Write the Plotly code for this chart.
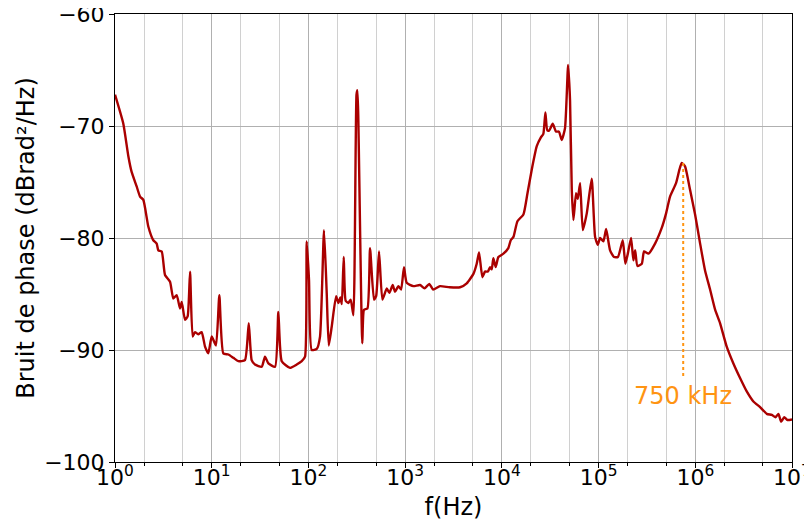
import math
import plotly.graph_objects as go

# log10 of frequency (Hz)
log_freq = [
    0.0, 0.086, 0.138, 0.172, 0.224, 0.259, 0.293, 0.345, 0.396, 0.431,
    0.448, 0.483, 0.517, 0.569, 0.603, 0.638, 0.672, 0.690, 0.724, 0.751,
    0.776, 0.803, 0.827, 0.86, 0.896, 0.931, 0.965, 1.0, 1.044, 1.079,
    1.12, 1.172, 1.224, 1.275, 1.344, 1.383, 1.413, 1.448, 1.517, 1.551,
    1.586, 1.655, 1.689, 1.724, 1.81, 1.879, 1.931, 1.965, 1.982, 2.006,
    2.034, 2.086, 2.12, 2.161, 2.189, 2.21, 2.241, 2.286, 2.31, 2.33,
    2.345, 2.365, 2.385, 2.413, 2.437, 2.465, 2.497, 2.506, 2.515, 2.557,
    2.575, 2.61, 2.637, 2.678, 2.70, 2.73, 2.765, 2.81, 2.837, 2.871,
    2.895, 2.93, 2.958, 2.988, 3.016, 3.085, 3.154, 3.2, 3.25, 3.29,
    3.36, 3.46, 3.568, 3.637, 3.706, 3.74, 3.764, 3.799, 3.826, 3.855,
    3.878, 3.895, 3.912, 3.936, 3.964, 4.016, 4.067, 4.092, 4.12, 4.161,
    4.223, 4.265, 4.309, 4.361, 4.405, 4.429, 4.45, 4.47, 4.49, 4.526,
    4.56, 4.59, 4.619, 4.653, 4.685, 4.705, 4.723, 4.74, 4.767, 4.785,
    4.809, 4.837, 4.878, 4.929, 4.964, 4.992, 5.016, 5.05, 5.078, 5.119,
    5.16, 5.2, 5.25, 5.277, 5.30, 5.336, 5.36, 5.378, 5.402, 5.447,
    5.47, 5.516, 5.584, 5.653, 5.698, 5.739, 5.801, 5.836, 5.86, 5.894,
    5.946, 5.998, 6.05, 6.101, 6.153, 6.205, 6.256, 6.325, 6.394, 6.463,
    6.532, 6.601, 6.67, 6.739, 6.791, 6.83, 6.86, 6.887, 6.92, 6.953,
    7.0,
]

# phase noise (dBrad²/Hz)
noise_db = [
    -67.2, -69.8, -72.7, -74.1, -75.4, -76.3, -76.6, -79.0, -80.2, -80.5,
    -81.1, -81.2, -83.3, -83.9, -85.4, -85.1, -86.3, -85.7, -87.3, -87.0,
    -83.0, -88.8, -88.4, -88.6, -88.4, -89.7, -90.3, -88.8, -89.6, -85.1,
    -90.3, -90.4, -90.7, -91.0, -90.9, -87.6, -90.9, -91.3, -91.5, -90.6,
    -91.2, -91.5, -86.6, -91.0, -91.6, -91.3, -91.0, -90.6, -80.3, -83.75,
    -90.0, -89.9, -88.8, -79.3, -84.9, -89.6, -87.9, -85.2, -85.8, -85.3,
    -85.9, -81.7, -85.6, -85.8, -85.5, -86.9, -67.2, -66.8, -69.0, -89.4,
    -86.4, -86.3, -80.9, -85.5, -85.2, -81.2, -85.5, -84.5, -84.9, -84.2,
    -84.8, -84.3, -84.6, -82.6, -84.0, -84.3, -84.2, -84.5, -84.1, -84.6,
    -84.3, -84.4, -84.4, -84.05, -83.2, -82.3, -81.3, -83.5, -83.0, -83.0,
    -82.6, -82.8, -81.8, -82.6, -81.7, -81.4, -80.9, -80.2, -79.9, -78.5,
    -77.9, -76.0, -73.9, -71.8, -71.0, -70.7, -68.8, -70.4, -70.4, -69.8,
    -70.5, -70.5, -71.25, -70.2, -64.55, -67.7, -75.7, -78.4, -76.0, -76.5,
    -75.1, -79.3, -77.8, -74.7, -79.9, -80.6, -80.0, -80.3, -79.2, -81.1,
    -81.7, -81.7, -80.2, -82.3, -81.5, -80.0, -82.0, -81.1, -82.5, -82.3,
    -81.2, -81.4, -80.5, -79.1, -77.8, -76.3, -75.1, -73.9, -73.3, -73.6,
    -75.7, -77.9, -80.5, -82.9, -84.6, -86.4, -87.6, -89.7, -91.2, -92.5,
    -93.7, -94.6, -95.1, -95.7, -95.8, -96.0, -95.7, -96.4, -96.0, -96.25,
    -96.2,
]

freq_hz = [10 ** e for e in log_freq]

x_tick_vals = [1, 10, 100, 1e3, 1e4, 1e5, 1e6, 1e7]
x_tick_text = ["10<sup>%d</sup>" % i for i in range(8)]
y_tick_vals = [-100, -90, -80, -70, -60]
y_tick_text = ["\u2212100", "\u221290", "\u221280", "\u221270", "\u221260"]

marker_freq = 750e3
marker_top_db = -73.3
marker_bottom_db = -92.5
marker_label = "750 kHz"
marker_label_db = -94.1

FONT = "DejaVu Sans"
ORANGE = "#FF9412"

fig = go.Figure()
fig.add_trace(go.Scatter(
    x=freq_hz, y=noise_db, mode="lines",
    line=dict(color="#AA0000", width=2.4, shape="spline", smoothing=0.5),
    showlegend=False,
))
fig.add_trace(go.Scatter(
    x=[marker_freq, marker_freq], y=[marker_top_db, marker_bottom_db],
    mode="lines", line=dict(color=ORANGE, width=2, dash="dot"),
    showlegend=False,
))
# annotations on a log axis take log10 coordinates
fig.add_annotation(
    x=math.log10(marker_freq), y=marker_label_db, xref="x", yref="y",
    text=marker_label, showarrow=False,
    font=dict(family=FONT, size=24, color=ORANGE),
    xanchor="center", yanchor="middle",
)

fig.update_layout(
    width=812, height=519,
    margin=dict(l=107, r=28, t=6, b=65),
    paper_bgcolor="white", plot_bgcolor="white",
    font=dict(family=FONT, color="black"),
    xaxis=dict(
        type="log", range=[0, 7], automargin=False,
        tickvals=x_tick_vals, ticktext=x_tick_text,
        tickfont=dict(family=FONT, size=22, color="black"),
        ticks="outside", ticklen=5, tickcolor="black",
        ticklabelstandoff=-9, ticklabeloverflow="allow",
        showgrid=True, gridcolor="#b0b0b0", gridwidth=1,
        showline=True, linecolor="black", linewidth=1, mirror=True,
        minor=dict(ticks="outside", ticklen=3, tickcolor="black",
                   showgrid=True, gridcolor="#d0d0d0", gridwidth=1),
        title=dict(text="f(Hz)", font=dict(family=FONT, size=24, color="black"),
                   standoff=8),
        zeroline=False,
    ),
    yaxis=dict(
        range=[-100, -60], automargin=False,
        tickvals=y_tick_vals, ticktext=y_tick_text,
        tickfont=dict(family=FONT, size=22, color="black"),
        ticks="outside", ticklen=5, tickcolor="black",
        ticklabeloverflow="allow",
        showgrid=True, gridcolor="#b0b0b0", gridwidth=1,
        showline=True, linecolor="black", linewidth=1, mirror=True,
        title=dict(text="Bruit de phase (dBrad²/Hz)",
                   font=dict(family=FONT, size=24, color="black"), standoff=2),
        zeroline=False,
    ),
)

fig.write_html("out.html")
